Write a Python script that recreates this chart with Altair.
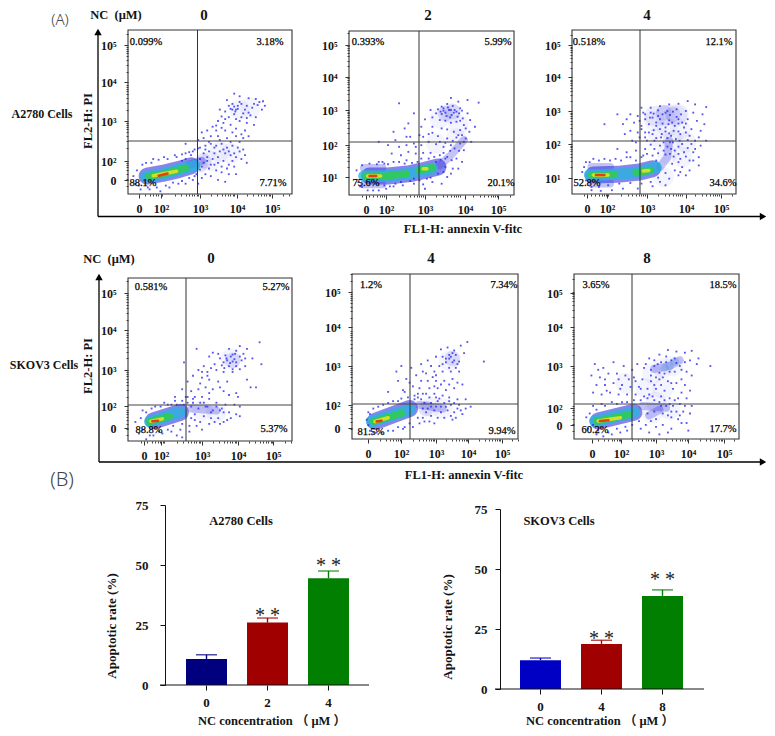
import math
import altair as alt
import pandas as pd

W, H = 759, 720
SERIF = "Liberation Serif, Noto Sans CJK SC"
SANS = "Noto Sans"
INK = "#141414"

SPOT_TIERS = ["haze", "mid", "spot"]
SPOT_COLOR = ["#2a2ae8", "#2222d8", "#18a4d8"]
SPOT_SIZE = [420, 70, 26]
SPOT_ALPHA = [0.05, 0.2, 0.7]

RIDGE_TIERS = ["cloud", "stream", "halo", "cyan", "green", "yellow", "red"]
RIDGE_COLOR = ["#2a2ae8", "#2828e0", "#3434e0", "#28b4dc", "#30cc50", "#dce024", "#e83414"]
RIDGE_WIDTH = [20, 8, 17, 11.5, 7, 3.5, 2.5]
RIDGE_ALPHA = [0.09, 0.28, 0.6, 0.78, 0.88, 0.95, 0.95]

# --- flow cytometry events, in decades of FL1 (x) and FL2 (y) ---
P1_DOTS = [(3.95,3.72),(4.1,3.65),(4.35,3.6),(4.55,3.58),(4.75,3.52),(3.75,3.55),(3.9,3.45),(4.05,3.4),(3.85,3.32),(4.0,3.3),(4.15,3.45),(4.3,3.4),(4.45,3.35),(4.6,3.42),(4.72,3.3),(3.7,3.25),(3.6,3.12),(3.8,3.1),(3.95,3.18),(4.2,3.2),(4.4,3.15),(4.55,3.1),(3.5,3.0),(3.65,2.95),(3.85,2.9),(4.1,3.0),(4.3,2.95),(4.5,2.9),(3.35,2.85),(3.2,2.75),(3.05,2.7),(3.45,2.75),(3.7,2.75),(4.0,2.8),(4.25,2.75),(3.1,2.55),(3.3,2.6),(2.95,2.5),(3.5,2.6),(3.75,2.55),(4.0,2.6),(4.2,2.55),(2.6,2.4),(3.0,2.3),(3.15,2.35),(3.3,2.4),(3.45,2.35),(3.6,2.4),(3.75,2.3),(3.9,2.35),(4.05,2.3),(4.2,2.25),(3.1,2.15),(3.25,2.2),(3.4,2.15),(3.55,2.2),(3.7,2.15),(3.85,2.1),(4.0,2.05),(4.15,2.0),(4.3,1.9),(3.0,2.0),(3.2,1.95),(3.35,2.0),(3.5,1.9),(3.65,1.95),(3.8,1.85),(3.95,1.8),(3.05,1.8),(3.25,1.75),(3.45,1.7),(3.6,1.65),(3.8,1.6),(4.0,1.6),(3.15,1.6),(3.3,1.55),(3.5,1.45),(3.7,1.4),(2.75,2.1),(2.85,2.25),(2.6,2.0),(2.5,1.95),(1.2,1.35),(1.25,1.7),(1.35,1.2),(1.5,1.9),(1.6,1.2),(1.7,2.0),(1.9,1.15),(2.0,2.05),(2.15,1.25),(2.3,2.1),(2.4,1.35),(2.6,2.15),(2.6,1.35),(2.8,2.2),(2.8,1.45),(1.15,1.55),(2.95,1.35),(2.9,1.6),
(1.3,1.3),(1.4,1.85),(1.55,1.25),(1.65,1.9),(1.8,1.25),(1.85,1.98),(2.05,1.3),(2.1,2.0),(2.25,1.38),(2.35,2.05),(2.5,1.42),(2.5,2.12),(2.7,1.5),(2.7,2.18),(2.85,1.55),(2.95,2.28),(3.05,1.5),(3.0,1.72),(3.1,1.9),(3.2,2.05),(3.3,1.85),(3.4,2.3),(3.5,2.05),(3.15,2.25),(3.65,2.25),(3.8,2.2),(3.95,2.15),(3.4,1.85),(3.6,1.8),(3.75,1.75),(3.9,1.95),(4.1,2.2),(4.25,2.1),(3.25,2.45),(3.55,2.5),(3.85,2.45),(4.1,2.45),(3.8,3.4),(3.95,3.38),(4.05,3.32),(4.1,3.5),(3.9,3.3),(3.98,3.25),(4.25,3.3),(4.35,3.22),(4.5,3.45),(4.65,3.5),(4.8,3.4),(3.55,3.3),(3.7,3.05),(4.0,3.05),(4.15,3.1),(4.3,3.08),(3.45,2.88),(3.6,2.82),(3.9,2.7),(4.15,2.65),(4.35,2.6)]
P1_SPOTS = [(3.55,2.2,"haze"),(3.85,2.15,"haze"),(3.3,1.95,"haze"),(4.1,3.3,"haze"),(4.4,3.35,"haze"),(3.1,1.95,"mid"),(3.0,1.85,"mid")]
P1_RIDGES = [("halo",[(1.53,1.55),(1.95,1.62),(2.4,1.72),(2.75,1.82)]),("stream",[(2.7,1.85),(3.05,1.95)]),
("cyan",[(1.5,1.53),(1.95,1.6),(2.4,1.72),(2.85,1.82)]),("green",[(1.58,1.55),(1.95,1.6),(2.35,1.7),(2.6,1.76)]),
("yellow",[(1.7,1.56),(2.35,1.68)]),("red",[(1.85,1.56),(2.1,1.62)])]

P2_DOTS = [(3.7,3.36),(3.9,3.25),(4.15,3.3),(4.45,3.22),(3.45,3.1),(3.6,3.18),(3.75,3.12),(3.95,3.05),(3.5,2.98),(3.65,3.0),(3.85,2.95),(4.0,2.98),(3.15,3.0),(3.3,2.9),(3.45,2.88),(3.58,2.82),(3.72,2.85),(3.88,2.8),(4.02,2.75),(4.15,2.9),(3.0,2.72),(3.2,2.78),(3.4,2.7),(3.55,2.68),(3.7,2.62),(3.85,2.65),(4.05,2.55),(4.22,2.7),(2.9,2.5),(3.2,2.5),(3.45,2.45),(3.6,2.42),(3.78,2.35),(3.95,2.4),(4.2,2.35),(4.35,2.5),(2.85,2.25),(3.1,2.28),(3.35,2.22),(3.6,2.15),(3.85,2.18),(4.1,2.15),(4.25,2.05),(2.7,2.9),(2.55,2.6),(2.45,2.45),(2.6,2.2),(2.3,3.2),(2.3,1.9),(2.5,1.95),(2.7,2.0),(2.9,1.95),(3.1,2.05),(3.3,1.98),(3.5,1.9),(3.7,1.95),(3.95,2.0),(4.05,1.8),(2.1,1.7),(2.35,1.65),(2.55,1.75),(2.75,1.7),(2.95,1.72),(3.15,1.72),(3.4,1.65),(3.6,1.6),(3.85,1.55),(4.0,1.45),(3.3,1.45),(3.55,1.3),(3.75,1.25),(3.35,1.1),(3.6,1.0),(3.2,0.85),(3.45,0.8),(2.95,0.78),(3.05,0.95),(2.4,0.75),(2.7,0.8),(2.2,0.8),(1.9,0.75),(1.15,1.2),(1.2,0.85),(1.3,0.7),(1.5,1.4),(1.6,0.6),(1.75,1.45),(1.9,1.4),(2.05,0.72),(2.15,1.45),(2.5,1.5),(2.7,0.95),
(3.5,3.05),(3.62,3.08),(3.7,3.0),(3.8,3.0),(3.55,2.92),(3.78,2.92),(3.92,2.9),(3.35,3.02),(3.42,2.95),(3.68,2.78),(3.95,2.68),(4.1,2.45),(3.9,2.25),(4.0,2.25),(4.05,2.05),(3.75,2.08),(3.8,1.85),(3.92,1.78),(3.68,1.78),(3.5,1.72),(3.72,1.5),(3.55,1.55),(3.42,1.52),(3.9,1.25),(3.7,1.1),(3.5,1.15),(3.1,1.55),(3.25,1.6),(2.9,1.55),(2.8,1.45),(2.65,1.42),(2.45,1.4),(2.3,1.45),(2.0,1.38),(1.85,1.45),(1.7,1.38),(1.3,1.35),(1.25,0.72),(1.45,0.6),(1.75,0.6),(1.95,0.65),(2.15,0.72),(2.35,0.85),(2.6,0.88),(2.85,0.9),(3.15,0.98),(3.0,0.65),(2.75,1.9),(2.95,2.2),(3.2,2.32),(3.4,2.05),(3.55,2.02),(2.5,2.2),(2.2,2.1),(2.0,1.95),(1.75,2.05),(2.15,2.35)]
P2_SPOTS = [(3.7,2.9,"haze"),(3.4,2.75,"haze"),(3.9,2.55,"haze"),(3.85,2.15,"haze"),(3.3,2.0,"haze"),(3.75,2.95,"mid"),(3.55,2.9,"mid")]
P2_RIDGES = [("stream",[(3.4,1.35),(3.7,1.65),(4.05,2.1)]),("stream",[(1.35,1.27),(1.85,1.27)]),("stream",[(1.35,0.78),(1.85,0.78)]),
("halo",[(1.5,1.03),(2.0,1.03),(2.6,1.1),(3.0,1.2),(3.35,1.3)]),("cyan",[(1.35,1.03),(1.9,1.03),(2.6,1.1),(3.2,1.25)]),
("green",[(1.4,1.03),(1.95,1.03),(2.5,1.1)]),("green",[(2.85,1.2),(3.2,1.28)]),("yellow",[(1.45,1.03),(1.8,1.03)]),("yellow",[(2.95,1.25),(3.05,1.25)]),
("red",[(1.5,1.03),(1.68,1.03)])]

P3_DOTS = [(3.1,3.1),(3.35,3.15),(3.6,3.2),(3.85,3.22),(4.1,3.3),(4.3,3.2),(4.6,3.12),(2.9,2.95),(3.1,2.95),(3.3,3.02),(3.55,3.0),(3.8,3.05),(4.05,3.0),(4.25,2.95),(4.5,2.9),(2.55,2.9),(2.75,2.85),(2.95,2.75),(3.15,2.8),(3.35,2.75),(3.6,2.72),(3.85,2.75),(4.1,2.75),(4.35,2.7),(4.55,2.6),(2.2,2.9),(2.45,2.75),(2.65,2.65),(2.85,2.55),(3.05,2.6),(3.25,2.55),(3.5,2.5),(3.75,2.55),(4.0,2.5),(4.2,2.45),(4.45,2.4),(1.85,2.6),(2.55,2.4),(2.75,2.35),(2.95,2.35),(3.15,2.3),(3.4,2.3),(3.65,2.25),(3.9,2.3),(4.15,2.25),(4.4,2.2),(4.6,2.1),(3.0,2.1),(3.2,2.1),(3.45,2.05),(3.7,2.05),(3.95,2.0),(4.2,2.0),(4.45,1.95),(2.7,2.05),(2.4,2.3),(2.2,1.85),(2.45,1.75),(2.7,1.8),(2.95,1.85),(3.2,1.85),(3.45,1.8),(3.75,1.8),(4.0,1.75),(4.25,1.75),(4.4,1.6),(2.55,1.6),(2.9,1.65),(3.15,1.65),(3.9,1.55),(4.15,1.5),(3.95,1.3),(4.15,1.2),(4.4,1.35),(3.85,1.05),(3.6,0.95),(3.35,0.85),(3.1,0.85),(2.85,0.8),(2.55,0.82),(2.25,0.8),(1.95,0.75),(1.7,0.7),(1.35,0.9),(1.3,1.3),(1.45,1.45),(1.7,1.5),(2.0,1.5),(2.3,1.5),(2.7,1.5),(1.5,0.7),(3.25,1.5),(3.5,0.75),(3.85,1.7),(2.85,3.1),(2.35,2.6),
(3.3,2.85),(3.42,2.9),(3.5,2.95),(3.62,2.88),(3.7,2.98),(3.8,2.82),(3.92,2.9),(3.18,2.92),(3.08,2.8),(3.25,2.65),(3.42,2.62),(3.58,2.6),(3.68,2.65),(3.85,2.62),(3.95,2.65),(4.05,2.62),(3.18,2.42),(3.35,2.45),(3.5,2.38),(3.6,2.32),(3.72,2.4),(3.85,2.38),(4.05,2.35),(3.25,2.18),(3.38,2.2),(3.55,2.18),(3.62,2.05),(3.78,2.15),(3.88,2.1),(4.1,2.12),(4.3,2.1),(3.1,1.98),(3.35,1.95),(3.55,1.92),(3.65,1.85),(3.85,1.92),(4.1,1.88),(4.3,1.85),(3.3,1.72),(3.5,1.68),(3.62,1.7),(3.72,1.62),(3.85,1.45),(4.05,1.62),(4.25,1.5),(3.68,1.4),(3.75,1.2),(3.5,1.12),(3.9,1.15),(4.05,1.05),(3.3,0.98),(3.15,0.72),(2.75,0.65),(2.35,0.65),(2.05,0.6),(1.75,0.58),(1.5,0.6),(1.25,1.15),(1.35,1.45),(1.55,1.55),(1.85,1.55),(2.15,1.55),(2.45,1.6),(2.85,1.6),(3.0,1.7),(2.95,2.2),(2.8,2.2),(2.6,2.1),(3.05,2.35),(2.85,2.45),(2.95,2.9),(2.8,2.7)]
P3_SPOTS = [(3.5,2.85,"haze"),(3.8,2.85,"haze"),(3.2,2.7,"haze"),(3.55,2.5,"haze"),(3.9,2.45,"haze"),(3.3,2.2,"haze"),(3.7,2.1,"haze"),(4.05,2.05,"haze"),(3.55,1.7,"haze"),(3.95,1.6,"haze"),(3.45,1.0,"haze"),(3.45,2.95,"mid"),(3.7,2.9,"mid")]
P3_RIDGES = [("stream",[(3.35,1.3),(3.55,1.6),(3.6,2.1)]),("cloud",[(3.2,2.85),(3.85,2.9)]),("stream",[(1.5,1.3),(2.0,1.3)]),("stream",[(1.5,0.8),(2.0,0.8)]),
("halo",[(1.55,1.06),(2.2,1.08),(2.8,1.15),(3.15,1.25)]),("cyan",[(1.45,1.06),(2.2,1.08),(2.8,1.15),(3.25,1.3)]),
("green",[(1.5,1.06),(2.1,1.08)]),("green",[(2.7,1.13),(3.1,1.2)]),("yellow",[(1.55,1.06),(1.95,1.06)]),("yellow",[(2.9,1.18),(3.05,1.2)]),("red",[(1.62,1.06),(1.85,1.06)])]

P4_DOTS = [(4.6,3.72),(4.05,3.62),(4.25,3.55),(3.95,3.5),(3.75,3.55),(4.15,3.42),(3.85,3.4),(3.65,3.38),(3.45,3.42),(3.3,3.45),(3.2,3.35),(3.5,3.3),(3.7,3.25),(3.9,3.28),(4.1,3.25),(4.4,3.3),(4.65,3.15),(3.35,3.15),(3.55,3.12),(3.75,3.1),(3.95,3.1),(4.2,3.1),(3.05,3.1),(3.15,2.95),(3.4,3.0),(3.6,2.95),(3.85,2.95),(2.9,3.0),(2.75,2.85),(3.0,2.8),(3.2,2.75),(3.45,2.7),(3.7,2.7),(4.25,2.75),(4.35,2.55),(2.85,3.55),(2.5,3.2),(2.6,2.7),(2.45,2.5),(2.7,2.45),(2.9,2.5),(3.1,2.55),(3.3,2.5),(3.6,2.45),(3.95,2.4),(4.0,2.3),(4.5,2.55),(2.55,2.3),(2.75,2.25),(3.0,2.3),(2.25,2.3),(3.2,2.25),(3.4,2.15),(3.65,2.1),(3.9,2.1),(4.05,2.05),(2.7,2.05),(2.9,2.0),(3.1,2.05),(3.3,1.95),(3.5,1.95),(3.75,1.9),(3.95,1.85),(2.8,1.85),(3.05,1.8),(3.25,1.75),(3.45,1.75),(3.7,1.7),(2.95,1.65),(3.2,1.6),(2.65,1.55),(1.15,1.65),(1.25,1.35),(1.35,1.95),(1.55,1.3),(1.7,2.05),(1.9,1.35),(1.95,2.15),(2.15,1.4),(2.25,2.2),(2.4,1.45),(2.45,1.25),(1.45,1.2),
(3.8,3.35),(3.92,3.42),(3.85,3.22),(3.95,3.2),(3.78,3.18),(3.68,3.3),(4.05,3.35),(4.2,3.3),(3.6,3.2),(3.62,3.05),(3.85,3.02),(4.05,3.02),(3.25,3.05),(3.0,2.95),(2.8,2.3),(2.95,2.15),(2.6,2.15),(2.75,2.15),(2.5,2.1),(3.05,2.15),(3.15,2.05),(3.25,1.9),(3.4,2.05),(3.55,2.0),(3.6,1.9),(3.35,1.65),(3.5,1.6),(3.8,1.75),(4.05,1.8),(3.6,1.65),(2.85,1.55),(3.0,1.45),(2.8,1.7),(2.7,1.75),(2.65,1.4),(2.3,1.3),(2.2,1.55),(2.45,1.6),(2.05,1.45),(1.8,1.4),(1.65,1.3),(1.35,1.45),(1.3,1.75),(1.45,1.9),(1.6,2.0),(1.85,2.05),(2.05,2.1),(2.15,2.1),(2.3,2.1),(2.45,2.2),(2.6,2.3),(3.2,2.4),(3.5,2.55),(3.75,2.35),(2.95,2.65),(3.15,2.85)]
P4_SPOTS = [(3.0,1.95,"haze"),(3.4,1.9,"haze"),(3.8,3.3,"haze"),(3.85,3.25,"mid")]
P4_RIDGES = [("stream",[(2.7,2.0),(3.4,1.95)]),("halo",[(1.65,1.68),(2.4,1.9)]),("cyan",[(1.55,1.66),(2.4,1.9)]),("green",[(1.55,1.66),(2.1,1.8)]),("yellow",[(1.58,1.67),(1.9,1.73)]),("red",[(1.62,1.67),(1.78,1.68)])]

P5_DOTS = [(3.95,3.65),(3.75,3.55),(3.55,3.42),(3.35,3.5),(3.15,3.45),(3.85,3.35),(3.6,3.3),(3.4,3.3),(3.2,3.25),(3.0,3.25),(2.75,3.15),(3.7,3.12),(3.5,3.1),(3.3,3.1),(3.1,3.0),(2.85,3.0),(2.55,3.05),(1.95,3.0),(2.25,2.95),(3.6,2.95),(3.4,2.95),(3.2,2.85),(2.95,2.85),(2.7,2.8),(2.4,2.75),(4.45,3.12),(1.85,2.6),(2.1,2.65),(2.55,2.6),(2.75,2.6),(3.0,2.6),(3.25,2.6),(3.5,2.65),(3.8,2.5),(2.3,2.45),(2.5,2.4),(2.8,2.4),(3.05,2.4),(3.3,2.35),(3.55,2.4),(1.55,2.3),(2.05,2.3),(2.7,2.25),(2.95,2.25),(3.2,2.2),(3.4,2.15),(3.65,2.1),(2.45,2.15),(3.9,2.1),(2.65,2.0),(2.85,2.0),(3.05,2.05),(3.25,2.0),(3.45,1.95),(3.7,1.95),(3.9,1.85),(4.05,1.9),(2.75,1.85),(2.95,1.8),(3.15,1.75),(3.35,1.8),(3.55,1.75),(3.8,1.7),(2.85,1.65),(3.05,1.6),(3.25,1.6),(3.5,1.55),(2.5,1.45),(2.3,1.35),(2.6,1.6),(1.0,1.7),(0.95,1.4),(1.1,1.2),(1.25,1.9),(1.35,1.2),(1.55,2.0),(1.7,1.25),(1.85,2.05),(2.05,1.35),(2.15,2.15),
(3.45,3.25),(3.55,3.15),(3.4,3.2),(3.5,3.35),(3.65,3.05),(3.3,3.2),(3.2,3.05),(3.45,2.85),(3.7,2.85),(2.9,2.7),(2.6,2.85),(3.0,2.75),(3.15,2.5),(3.4,2.5),(3.65,2.55),(2.95,2.45),(2.6,2.25),(2.45,2.25),(2.8,2.15),(2.55,2.1),(3.0,2.15),(3.1,2.12),(2.35,2.1),(2.6,1.85),(2.7,1.75),(2.85,1.9),(3.0,1.9),(3.15,1.9),(3.3,1.9),(3.4,2.05),(3.55,2.0),(3.65,1.85),(3.75,1.8),(3.45,1.65),(3.6,1.6),(2.65,1.5),(2.8,1.5),(2.95,1.45),(2.45,1.6),(2.2,1.45),(2.0,1.3),(1.85,1.35),(1.55,1.25),(1.2,1.2),(1.0,1.25),(0.9,1.55),(0.95,1.75),(1.1,1.85),(1.4,1.95),(1.7,2.05),(1.95,2.12),(2.0,2.35),(2.2,2.55),(1.8,2.85),(2.35,2.2)]
P5_SPOTS = [(2.85,1.9,"haze"),(3.2,1.85,"haze"),(3.4,3.15,"haze"),(3.5,3.2,"mid"),(2.7,1.85,"mid")]
P5_RIDGES = [("stream",[(2.5,1.95),(3.2,1.85)]),("halo",[(1.15,1.5),(2.2,1.85)]),("cyan",[(1.05,1.5),(2.2,1.82)]),("green",[(1.1,1.5),(1.95,1.72)]),("yellow",[(1.15,1.5),(1.55,1.6)]),("red",[(1.2,1.5),(1.35,1.52)])]

P6_DOTS = [(3.35,3.42),(3.6,3.38),(3.85,3.35),(4.05,3.4),(4.25,3.2),(3.1,3.3),(3.3,3.25),(3.55,3.2),(4.0,3.15),(4.2,3.05),(4.6,3.0),(2.8,3.2),(2.95,3.15),(2.65,2.95),(2.45,3.05),(2.7,3.05),(2.85,2.9),(3.9,2.85),(4.05,2.75),(1.2,3.05),(1.45,2.95),(1.75,3.1),(2.05,3.0),(2.3,2.9),(1.1,2.75),(1.35,2.7),(1.6,2.8),(1.85,2.8),(2.1,2.75),(2.35,2.7),(2.6,2.65),(2.85,2.6),(3.1,2.65),(3.35,2.6),(3.6,2.55),(3.85,2.5),(1.25,2.5),(1.5,2.5),(1.75,2.55),(2.0,2.5),(2.25,2.45),(2.5,2.45),(2.75,2.4),(3.0,2.4),(3.25,2.35),(3.5,2.4),(3.75,2.3),(4.0,2.35),(1.15,2.3),(1.4,2.25),(1.65,2.3),(1.9,2.25),(2.15,2.25),(2.4,2.25),(2.65,2.2),(2.9,2.2),(3.15,2.2),(3.4,2.15),(3.65,2.15),(3.9,2.15),(3.7,2.0),(3.5,1.95),(3.85,1.95),(4.05,1.95),(3.6,1.8),(3.8,1.8),(4.0,1.75),(3.45,1.65),(3.65,1.6),(3.9,1.5),(3.2,1.45),(3.0,1.4),(2.8,1.25),(3.45,1.35),(2.55,1.35),(3.95,1.3),(2.0,2.05),(1.7,2.05),(1.4,2.0),(0.95,1.65),(1.0,1.35),(1.15,1.95),(1.25,1.2),(1.45,1.15),(1.7,1.2),(1.95,1.25),(2.15,1.3),
(3.05,3.05),(3.15,3.1),(3.3,3.1),(3.45,3.15),(3.6,3.08),(3.7,3.0),(3.85,3.1),(2.95,3.0),(3.1,2.82),(3.25,2.8),(3.4,2.85),(3.55,2.85),(3.75,2.9),(2.85,2.75),(3.0,2.7),(3.2,2.7),(2.95,2.5),(3.15,2.5),(3.45,2.55),(3.75,2.65),(2.8,2.25),(2.55,2.4),(2.4,2.6),(2.2,2.65),(1.9,2.65),(1.5,2.65),(1.3,2.9),(1.95,2.4),(1.55,2.35),(2.75,2.15),(2.95,2.1),(3.1,2.05),(3.25,2.1),(3.4,2.0),(3.55,2.1),(3.15,1.95),(3.3,1.95),(3.45,1.8),(3.2,1.75),(3.35,1.7),(3.0,1.6),(2.85,1.55),(2.7,1.45),(2.95,1.8),(2.75,1.75),(2.5,1.55),(2.3,1.45),(2.1,1.4),(1.85,1.35),(1.6,1.25),(1.3,1.3),(1.15,1.45),(1.05,1.75),(1.25,1.85),(1.5,1.95),(1.85,2.0),(2.15,2.05),(2.35,2.1),(2.55,2.1),(3.7,1.7),(3.75,1.5),(3.35,1.25),(3.1,1.2)]
P6_SPOTS = [(3.2,2.95,"haze"),(3.5,3.0,"haze"),(2.9,2.8,"haze"),(2.1,2.55,"haze"),(2.7,2.4,"haze"),(3.2,2.4,"haze"),(3.0,2.05,"haze"),(3.4,1.85,"haze"),(2.9,1.75,"haze"),(3.25,2.95,"spot"),(3.4,3.0,"spot"),(3.55,3.12,"spot")]
P6_RIDGES = [("stream",[(2.95,2.92),(3.4,3.0),(3.7,3.15)]),("stream",[(2.6,1.95),(3.3,1.9)]),("stream",[(2.8,1.7),(3.1,1.85)]),("halo",[(1.3,1.55),(2.35,1.78)]),("cyan",[(1.2,1.55),(2.35,1.78)]),("green",[(1.25,1.55),(2.2,1.72)]),("yellow",[(1.3,1.55),(1.95,1.64)]),("red",[(1.35,1.55),(1.6,1.57)])]

# --- quadrant labels ---
P1_LABELS = ["0.099%", "3.18%", "88.1%", "7.71%"]
P2_LABELS = ["0.393%", "5.99%", "75.6%", "20.1%"]
P3_LABELS = ["0.518%", "12.1%", "52.8%", "34.6%"]
P4_LABELS = ["0.581%", "5.27%", "88.8%", "5.37%"]
P5_LABELS = ["1.2%", "7.34%", "81.5%", "9.94%"]
P6_LABELS = ["3.65%", "18.5%", "60.2%", "17.7%"]

# --- bars ---
A_CATS = ["0", "2", "4"]
A_VALS = [10.8, 26.0, 44.5]
A_ERR = [12.6, 27.9, 47.5]
A_COLORS = ["#00007f", "#a00000", "#007f00"]
B_CATS = ["0", "4", "8"]
B_VALS = [12.0, 18.8, 38.8]
B_ERR = [12.9, 20.3, 41.3]
B_COLORS = ["#0000c4", "#a00000", "#007f00"]
SIG_A = ["2", "4"]
SIG_A_Y = [30.0, 50.8]
SIG_B = ["4", "8"]
SIG_B_Y = [22.0, 46.7]

layers = []


def label(txt, x, y, size=12, weight="bold", font=SERIF, angle=0, color=INK, halo=0):
    kw = {"stroke": color, "strokeWidth": halo} if halo else {}
    layers.append(
        alt.Chart(pd.DataFrame({"t": [txt]}))
        .mark_text(fontSize=size, fontWeight=weight, font=font, angle=angle, color=color,
                   align="center", baseline="middle", **kw)
        .encode(text="t:N", x=alt.value(x - 8), y=alt.value(y - 8))
    )


def line(x0, y0, x1, y1, width=1.0, color=INK):
    layers.append(
        alt.Chart(pd.DataFrame({"t": [0]}))
        .mark_rule(strokeWidth=width, color=color)
        .encode(x=alt.value(x0 - 8), x2=alt.value(x1 - 8), y=alt.value(y0 - 8), y2=alt.value(y1 - 8))
    )


def arrow_head(x, y, shape):
    layers.append(
        alt.Chart(pd.DataFrame({"t": [0]}))
        .mark_point(shape=shape, filled=True, size=55, color="#000", opacity=1)
        .encode(x=alt.value(x - 8), y=alt.value(y - 8))
    )


def label_expr(ticks, vals):
    parts = [f"abs(datum.value-{v:.5f})<0.001?'{t[0]}':" for t, v in zip(ticks, vals)]
    return "".join(parts) + "''"


def minor_vals(lo, hi):
    out = []
    for d in range(1, 6):
        for k in range(2, 10):
            v = d + math.log10(k)
            if lo < v < hi:
                out.append(v)
    return out


def panel(dots, spots, ridges, texts, L, R, T, B, x3, kx, y3, ky, gx, gy, xticks, yticks, text_pos):
    xlo, xhi = 3 + (L - x3) / kx, 3 + (R - x3) / kx
    yhi, ylo = 3 - (T - y3) / ky, 3 - (B - y3) / ky
    sx = alt.Scale(domain=[xlo, xhi], range=[L - 8, R - 8])
    sy = alt.Scale(domain=[ylo, yhi], range=[B - 8, T - 8])
    xv = [3 + (t[1] - x3) / kx for t in xticks]
    yv = [3 - (t[1] - y3) / ky for t in yticks]
    ax_x = alt.Axis(orient="bottom", offset=-(H - (B - 8)), values=xv, labelExpr=label_expr(xticks, xv), title=None,
                    tickSize=4, tickColor="#333", domain=False, labelFont=SERIF, labelFontWeight="bold", labelFontSize=12,
                    labelPadding=5, labelColor=INK, labelAngle=0, labelOverlap=False, labelFlush=False)
    ax_y = alt.Axis(orient="left", offset=-(L - 8), values=yv, labelExpr=label_expr(yticks, yv), title=None,
                    tickSize=4, tickColor="#333", domain=False, labelFont=SERIF, labelFontWeight="bold", labelFontSize=12,
                    labelPadding=8, labelColor=INK, labelOverlap=False, labelFlush=False)
    ax_xm = alt.Axis(orient="bottom", offset=-(H - (B - 8)), values=minor_vals(xlo, xhi), labels=False, title=None,
                     tickSize=2, tickColor="#444", domain=False)
    ax_ym = alt.Axis(orient="left", offset=-(L - 8), values=minor_vals(ylo, yhi), labels=False, title=None,
                     tickSize=2, tickColor="#444", domain=False)

    spot_df = pd.DataFrame(spots, columns=["x", "y", "tier"])
    layers.append(
        alt.Chart(spot_df).mark_circle().encode(
            x=alt.X("x:Q", scale=sx, axis=None),
            y=alt.Y("y:Q", scale=sy, axis=None),
            color=alt.Color("tier:N", scale=alt.Scale(domain=SPOT_TIERS, range=SPOT_COLOR), legend=None),
            size=alt.Size("tier:N", scale=alt.Scale(domain=SPOT_TIERS, range=SPOT_SIZE), legend=None),
            opacity=alt.Opacity("tier:N", scale=alt.Scale(domain=SPOT_TIERS, range=SPOT_ALPHA), legend=None),
        )
    )
    rows = []
    for rid, (tier, pts) in enumerate(ridges):
        for i, (x, y) in enumerate(pts):
            rows.append({"rid": rid, "tier": tier, "i": i, "x": x, "y": y})
    ridge_df = pd.DataFrame(rows)
    for rid in sorted(ridge_df.rid.unique()):
        part = ridge_df[ridge_df.rid == rid]
        tier = part.tier.iloc[0]
        k = RIDGE_TIERS.index(tier)
        layers.append(
            alt.Chart(part).mark_line(strokeCap="round", strokeJoin="round", strokeWidth=RIDGE_WIDTH[k],
                                      color=RIDGE_COLOR[k], opacity=RIDGE_ALPHA[k]).encode(
                x=alt.X("x:Q", scale=sx, axis=None),
                y=alt.Y("y:Q", scale=sy, axis=None),
                order="i:Q",
            )
        )
    dot_df = pd.DataFrame(dots, columns=["x", "y"])
    layers.append(
        alt.Chart(dot_df).mark_square(size=3.4, color="#2a2aee", opacity=0.8).encode(
            x=alt.X("x:Q", scale=sx, axis=ax_x), y=alt.Y("y:Q", scale=sy, axis=ax_y)
        )
    )
    layers.append(
        alt.Chart(dot_df.head(1)).mark_point(opacity=0).encode(
            x=alt.X("x:Q", scale=sx, axis=ax_xm), y=alt.Y("y:Q", scale=sy, axis=ax_ym)
        )
    )
    layers.append(
        alt.Chart(pd.DataFrame({"t": [0]})).mark_rect(fillOpacity=0, stroke="#333", strokeWidth=1.1).encode(
            x=alt.value(L - 8), x2=alt.value(R - 8), y=alt.value(T - 8), y2=alt.value(B - 8)
        )
    )
    line(gx, T, gx, B, 1.0, "#333")
    line(L, gy, R, gy, 1.0, "#444")
    for txt, (tx, ty) in zip(texts, text_pos):
        label(txt, tx, ty, size=10.5, weight="normal", color="#000", halo=0.25)


panel(P1_DOTS, P1_SPOTS, P1_RIDGES, P1_LABELS, 128, 292, 30, 194, 200, 36, 121, 38, 197.5, 141,
      [("0", 139), ("10²", 161), ("10³", 200), ("10⁴", 237), ("10⁵", 272)],
      [("10⁵", 45), ("10⁴", 82), ("10³", 121), ("10²", 161), ("0", 180)],
      [(146, 42), (270, 42), (143, 183), (273, 183)])
panel(P2_DOTS, P2_SPOTS, P2_RIDGES, P2_LABELS, 349, 514, 31, 195, 425, 37, 110, 33.5, 419, 142,
      [("0", 366), ("10²", 386), ("10³", 425), ("10⁴", 465), ("10⁵", 498)],
      [("10⁵", 45), ("10⁴", 77), ("10³", 110), ("10²", 145), ("10¹", 177)],
      [(368, 42), (498, 42), (366, 183), (501, 183)])
panel(P3_DOTS, P3_SPOTS, P3_RIDGES, P3_LABELS, 572, 736, 30, 194, 647, 37, 111, 33, 640, 141,
      [("0", 587), ("10²", 607), ("10³", 647), ("10⁴", 686), ("10⁵", 721)],
      [("10⁵", 45), ("10⁴", 77), ("10³", 111), ("10²", 144), ("10¹", 178)],
      [(589, 42), (719, 42), (587, 183), (723, 183)])
panel(P4_DOTS, P4_SPOTS, P4_RIDGES, P4_LABELS, 128, 292, 278, 441, 202, 36, 370, 38.5, 186, 405,
      [("0", 144), ("10²", 161), ("10³", 202), ("10⁴", 238), ("10⁵", 273)],
      [("10⁵", 293), ("10⁴", 330), ("10³", 370), ("10²", 406), ("0", 428)],
      [(151, 287), (276, 287), (149, 430), (274, 429)])
panel(P5_DOTS, P5_SPOTS, P5_RIDGES, P5_LABELS, 352, 518, 274, 439, 436, 33, 366, 37, 410, 404,
      [("0", 368), ("10²", 401), ("10³", 436), ("10⁴", 468), ("10⁵", 502)],
      [("10⁵", 292), ("10⁴", 327), ("10³", 366), ("10²", 405), ("0", 428)],
      [(371, 285), (504, 285), (371, 432), (502, 431)])
panel(P6_DOTS, P6_SPOTS, P6_RIDGES, P6_LABELS, 574, 739, 274, 439, 656, 34, 366, 38, 632, 404,
      [("0", 592), ("10²", 621), ("10³", 656), ("10⁴", 688), ("10⁵", 724)],
      [("10⁵", 293), ("10⁴", 327), ("10³", 366), ("10²", 408), ("0", 425)],
      [(596, 285), (723, 285), (595, 430), (723, 429)])


def bars(cats, vals, errs, colors, sig, sig_y, x0, x1, yaxis_x, y0, y75, dom_x0, dom_x1, pad):
    df = pd.DataFrame({"c": cats, "v": vals, "e": errs})
    sig_df = pd.DataFrame({"c": sig, "s": sig_y})
    sx = alt.Scale(type="band", domain=cats, range=[x0 - 8, x1 - 8], paddingInner=0.328, paddingOuter=0.164)
    sy = alt.Scale(domain=[0, 75], range=[y0 - 8, y75 - 8])
    sc = alt.Scale(domain=cats, range=colors)
    ax_x = alt.Axis(orient="bottom", offset=-(H - (y0 - 8)), title=None, tickSize=5, tickColor="#111", domain=False,
                    labelFont=SERIF, labelFontWeight="bold", labelFontSize=13, labelPadding=6, labelAngle=0, labelColor=INK)
    ax_y = alt.Axis(orient="left", offset=-(yaxis_x - 8), values=[0, 25, 50, 75], title=None, tickSize=5, tickColor="#111",
                    domainColor="#111", labelFont=SERIF, labelFontWeight="bold", labelFontSize=13, labelPadding=pad,
                    labelColor=INK, labelFlush=False)
    x_plain = alt.X("c:N", scale=sx, axis=None, sort=cats)
    y_plain = alt.Y("v:Q", scale=sy, axis=None)
    layers.append(alt.Chart(df).mark_bar().encode(
        x=alt.X("c:N", scale=sx, axis=ax_x, sort=cats), y=alt.Y("v:Q", scale=sy, axis=ax_y),
        color=alt.Color("c:N", scale=sc, legend=None)))
    layers.append(alt.Chart(df).mark_rule(strokeWidth=1.4).encode(
        x=x_plain, y=y_plain, y2="e:Q", color=alt.Color("c:N", scale=sc, legend=None)))
    layers.append(alt.Chart(df).mark_tick(orient="horizontal", size=21, thickness=1.5).encode(
        x=x_plain, y=alt.Y("e:Q", scale=sy, axis=None), color=alt.Color("c:N", scale=sc, legend=None)))
    layers.append(alt.Chart(sig_df).mark_text(text="* *", font=SERIF, fontSize=20, color="#222", dy=3).encode(
        x=x_plain, y=alt.Y("s:Q", scale=sy, axis=None)))
    line(dom_x0, y0, dom_x1, y0, 1.0, "#111")


bars(A_CATS, A_VALS, A_ERR, A_COLORS, SIG_A, SIG_A_Y, 176, 359, 165, 685, 505, 160, 369, 12)
bars(B_CATS, B_VALS, B_ERR, B_COLORS, SIG_B, SIG_B_Y, 510, 693, 500, 689, 509, 495, 704, 8)

# arrows
line(98, 34, 98, 216.5, 1.3, "#000")
line(98, 216.5, 761, 216.5, 1.3, "#000")
arrow_head(98, 32, "triangle-up")
arrow_head(763, 216.5, "triangle-right")
line(99, 278, 99, 462, 1.3, "#000")
line(99, 462, 761, 462, 1.3, "#000")
arrow_head(99, 277, "triangle-up")
arrow_head(763, 462, "triangle-right")

# titles
label("(A)", 60, 20, size=15, weight=300, font=SANS, color="#444")
label("(B)", 62, 480, size=20, weight=300, font=SANS, color="#444")
NC = "NC\u00a0\u00a0(μM)"
label(NC, 116, 15, size=12.5)
label(NC, 109, 259, size=12.5)
for txt, x, y in [("0", 204, 15), ("2", 428, 15), ("4", 647, 15), ("0", 211, 258), ("4", 431, 258), ("8", 647, 258)]:
    label(txt, x, y, size=15)
label("A2780 Cells", 42, 114, size=12)
label("SKOV3 Cells", 44, 365, size=12)
label("FL2-H: PI", 88, 121, size=12.5, angle=270)
label("FL2-H: PI", 88, 366, size=12.5, angle=270)
label("FL1-H: annexin V-fitc", 463, 229, size=12.5)
label("FL1-H: annexin V-fitc", 464, 475, size=12.5)
label("Apoptotic rate (%)", 112, 626, size=13, angle=270)
label("Apoptotic rate (%)", 448, 627, size=13, angle=270)
label("A2780 Cells", 241, 521, size=12.5)
label("SKOV3 Cells", 559, 521, size=12.5)
label("NC concentration （ μM ）", 272, 721, size=12.5)
label("NC concentration （ μM ）", 600, 721, size=12.5)

chart = (
    alt.layer(*layers)
    .resolve_scale(x="independent", y="independent", color="independent", size="independent", opacity="independent")
    .properties(width=W, height=H, padding=0, autosize="none")
    .configure_view(stroke=None)
    .configure_axis(grid=False)
)
chart.save("out.html", embed_options={"renderer": "svg", "actions": False})
